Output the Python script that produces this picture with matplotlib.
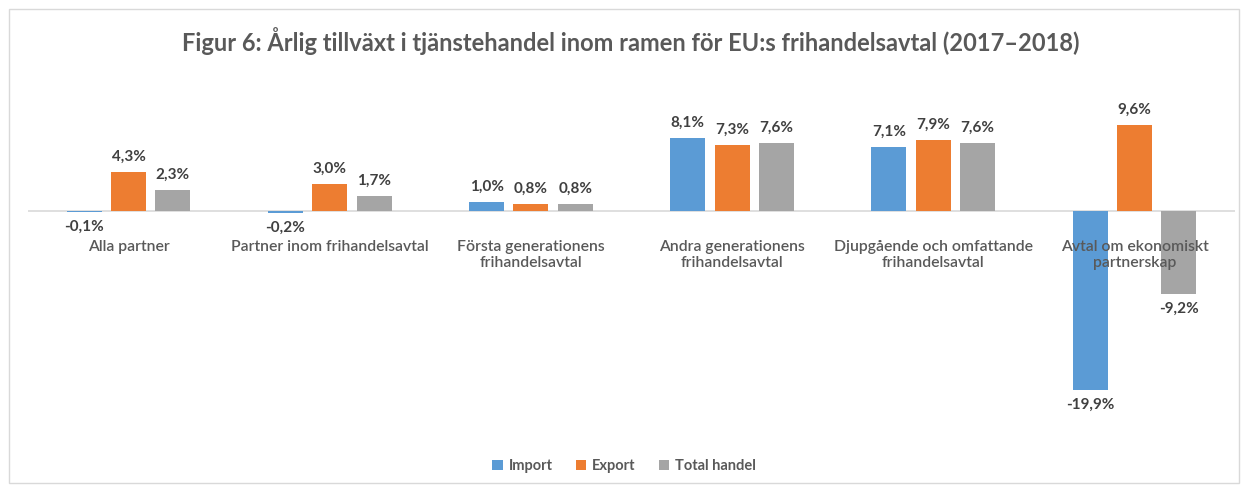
import matplotlib.pyplot as plt
import numpy as np
from matplotlib.patches import Rectangle

categories = ['Alla partner', 'Partner inom frihandelsavtal', 'Första generationens\nfrihandelsavtal',
              'Andra generationens\nfrihandelsavtal', 'Djupgående och omfattande\nfrihandelsavtal',
              'Avtal om ekonomiskt\npartnerskap']
series_names = ['Import', 'Export', 'Total handel']
import_vals = [-0.1, -0.2, 1.0, 8.1, 7.1, -19.9]
export_vals = [4.3, 3.0, 0.8, 7.3, 7.9, 9.6]
total_vals = [2.3, 1.7, 0.8, 7.6, 7.6, -9.2]
colors = ['#5B9BD5', '#ED7D31', '#A5A5A5']

plt.rcParams['font.family'] = ['Lato', 'DejaVu Sans']

fig = plt.figure(figsize=(12.48, 4.87), dpi=100)
ax = fig.add_axes([28 / 1248, 1 - 425 / 487, 1207 / 1248, 340 / 487])

x = np.arange(len(categories))
width = 0.174
step = 0.22
for i, (vals, name, c) in enumerate(zip([import_vals, export_vals, total_vals], series_names, colors)):
    pos = x + (i - 1) * step
    ax.bar(pos, vals, width, color=c, label=name, zorder=2)
    for p, v in zip(pos, vals):
        txt = f'{v:.1f}%'.replace('.', ',')
        if v >= 0:
            ax.text(p, v + 0.9, txt, ha='center', va='bottom', fontsize=11, fontweight='bold', color='#404040')
        else:
            ax.text(p, v - 0.9, txt, ha='center', va='top', fontsize=11, fontweight='bold', color='#404040')

for xi, cat in zip(x, categories):
    ax.text(xi, -3.2, cat, ha='center', va='top', fontsize=11.3, fontweight='semibold', color='#595959',
            linespacing=1.2)

ax.axhline(0, color='#D9D9D9', lw=1.2, zorder=1)
ax.set_xlim(-0.5, len(categories) - 0.5)
ax.set_ylim(-23.8, 14)
ax.axis('off')

fig.text(0.5 + 7 / 1248, 1 - 41 / 487,
         'Figur 6: Årlig tillväxt i tjänstehandel inom ramen för EU:s frihandelsavtal (2017–2018)',
         ha='center', va='center', fontsize=17, fontweight='bold', color='#595959')

leg = fig.legend(loc='center', bbox_to_anchor=(0.5, 1 - 466 / 487), ncol=3, frameon=False,
                 prop={'size': 10.5, 'weight': 'bold'},
                 handlelength=0.7, handleheight=0.7, handletextpad=0.4, columnspacing=1.6, labelcolor='#595959')

fig.patches.append(Rectangle((9 / 1248, 4 / 487), 1230 / 1248, 474 / 487, transform=fig.transFigure,
                             fill=False, edgecolor='#D9D9D9', lw=1))

fig.savefig('out.png', dpi=100)
